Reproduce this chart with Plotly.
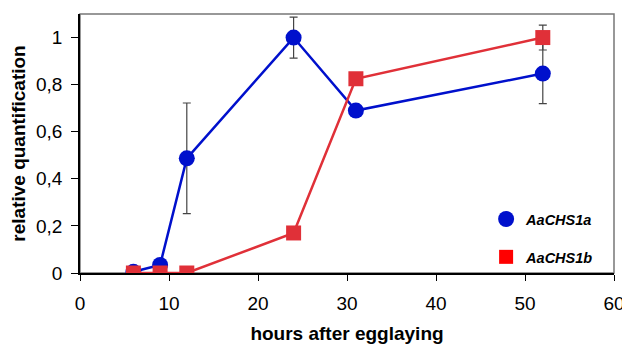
import plotly.graph_objects as go

hours = [6, 9, 12, 24, 31, 52]
chs1a = [0.005, 0.034, 0.487, 1.0, 0.69, 0.847]
chs1a_err = [0, 0, 0.235, 0.087, 0, 0.128]
chs1b = [0, 0, 0, 0.17, 0.825, 1.0]
chs1b_err = [0, 0, 0, 0, 0, 0.053]
names = ["AaCHS1a", "AaCHS1b"]

font = "Liberation Sans, Arial, sans-serif"
tickfont = dict(family=font, size=19, color="black")
blue = "#0010cc"
red = "#e03038"

fig = go.Figure()
fig.add_trace(go.Scatter(
    x=hours, y=chs1a, mode="lines+markers", showlegend=False,
    line=dict(color=blue, width=2.5),
    marker=dict(symbol="circle", size=16, color=blue),
    error_y=dict(type="data", array=chs1a_err, visible=True, color="#444", thickness=1.2, width=4),
))
fig.add_trace(go.Scatter(
    x=hours, y=chs1b, mode="lines+markers", showlegend=False,
    line=dict(color=red, width=2.5),
    marker=dict(symbol="square", size=15, color=red),
    error_y=dict(type="data", array=chs1b_err, visible=True, color="#444", thickness=1.2, width=4),
))
# legend-only entries (markers only, as in the reference)
fig.add_trace(go.Scatter(x=[None], y=[None], mode="markers", name="<b><i>%s</i></b>" % names[0],
                         marker=dict(symbol="circle", size=16, color=blue), legendgroup="a"))
fig.add_trace(go.Scatter(x=[None], y=[None], mode="markers", name="<b><i>%s</i></b>" % names[1],
                         marker=dict(symbol="square", size=14, color="#ff0000"), legendgroup="b"))

fig.update_layout(
    width=622, height=339,
    margin=dict(l=72, r=16, t=6, b=74),
    paper_bgcolor="white", plot_bgcolor="white",
    separators=", ",
    font=dict(family=font, size=15, color="black"),
    showlegend=True,
    legend=dict(x=0.7605, y=0.27, xanchor="left", yanchor="top",
                font=dict(family=font, size=14.5, color="black"), tracegroupgap=16,
                bgcolor="rgba(0,0,0,0)", itemsizing="trace"),
    xaxis=dict(range=[0, 60], tickvals=[0, 10, 20, 30, 40, 50, 60], tickfont=tickfont,
               showgrid=False, zeroline=False, showline=True, linecolor="black", linewidth=1.5,
               ticks="outside", ticklen=6, tickcolor="black", automargin=False,
               ticklabelstandoff=6,
               title=dict(text="<b>hours after egglaying</b>", font=dict(size=19), standoff=14)),
    yaxis=dict(range=[0, 1.1], tickvals=[0, 0.2, 0.4, 0.6, 0.8, 1.0], tickfont=tickfont,
               showgrid=False, zeroline=False, showline=True, linecolor="black", linewidth=1.5,
               ticks="outside", ticklen=7, tickcolor="black", automargin=False,
               ticklabelstandoff=5,
               title=dict(text="<b>relative quantification</b>", font=dict(size=19), standoff=8)),
    shapes=[dict(type="rect", xref="paper", yref="paper", x0=0, y0=0, x1=1, y1=1,
                 line=dict(color="#777", width=1.5), layer="below")],
)

fig.write_html("out.html")
